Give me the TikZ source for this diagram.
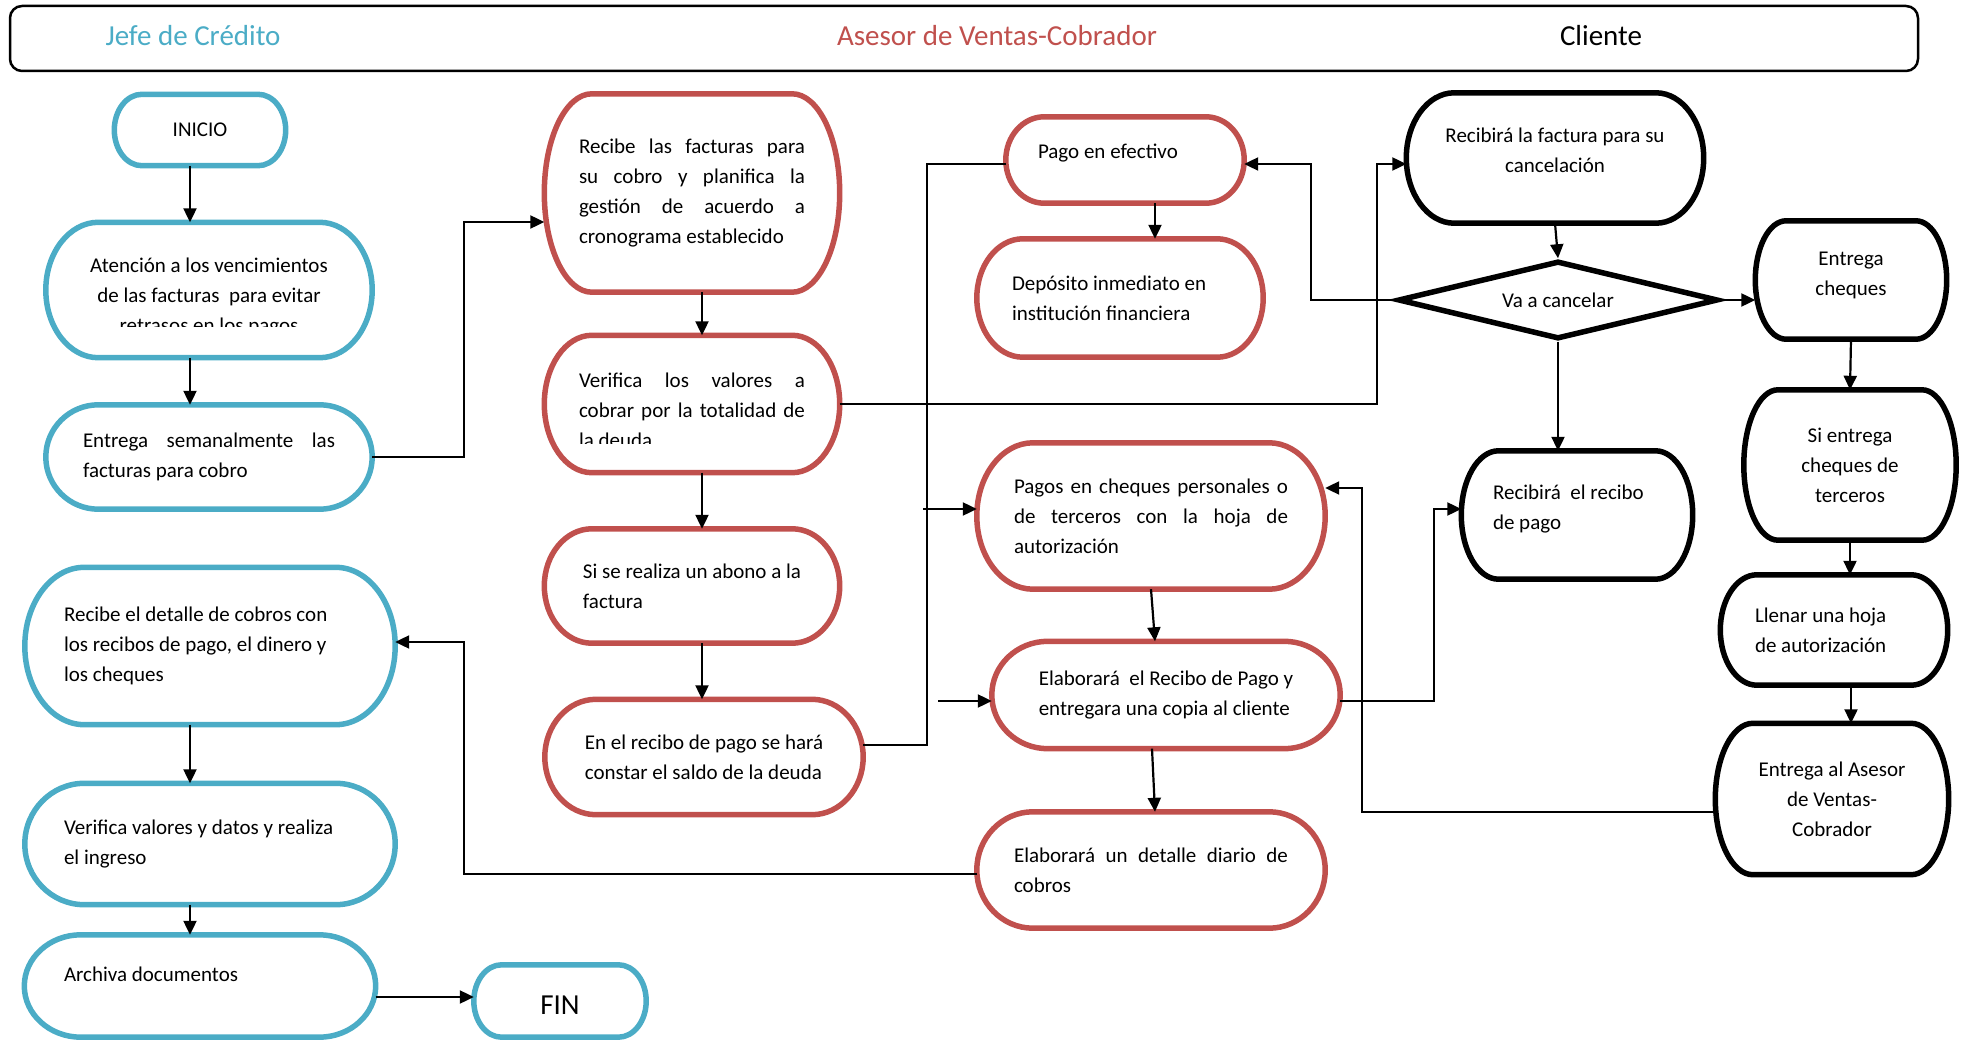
\documentclass[tikz,border=0pt]{standalone}
\usepackage{fontspec}
\setmainfont{Carlito}
\usetikzlibrary{arrows.meta,shapes.geometric,calc}
\setlength{\parindent}{0pt}
\tolerance=10000 \hbadness=10000 \hyphenpenalty=10000 \exhyphenpenalty=10000
\definecolor{jefe}{HTML}{4BACC6}
\definecolor{asesor}{HTML}{C0504D}

% terminator outline (half-ellipse ends) round a named node
\newcommand{\capsule}[2]{%
  \draw[#2] let \p1=(#1.south west), \p2=(#1.north east),
    \n1={0.161*(\x2-\x1)}, \n2={(\y2-\y1)/2} in
    (\x1+\n1,\y2) -- (\x2-\n1,\y2)
    arc[start angle=90, end angle=-90, x radius=\n1*1pt, y radius=\n2*1pt]
    -- (\x1+\n1,\y1)
    arc[start angle=270, end angle=90, x radius=\n1*1pt, y radius=\n2*1pt] -- cycle;}

\begin{document}
\begin{tikzpicture}[x=1pt, y=-1pt,
  stepbox/.style={inner sep=0pt, font=\fontsize{21}{30}\selectfont},
  lanetext/.style={font=\fontsize{29}{34}\selectfont},
  jefeline/.style={draw=jefe, line width=5.5pt},
  asesorline/.style={draw=asesor, line width=5.5pt},
  clienteline/.style={draw=black, line width=5.5pt},
  arr/.style={line width=2.2pt, -{Triangle[length=14pt, width=13pt]}},
  conn/.style={line width=2.2pt}]
\useasboundingbox (0,0) rectangle (1966,1040);

% lanes
\node[draw, line width=2.5pt, rounded corners=12pt, minimum width=1908pt, minimum height=65pt] (lanes) at (964,38.5) {};
\node[lanetext, text=jefe] (tjefe) at (193,36) {Jefe de Crédito};
\node[lanetext, text=asesor] (tasesor) at (997,36) {Asesor de Ventas-Cobrador};
\node[lanetext] (tcliente) at (1601,36) {Cliente};

% Jefe de Credito
\node[stepbox, minimum width=171pt, minimum height=71pt] (ini) at (200,130) {INICIO};
\begin{scope}
  \clip (30,200) rectangle (390,327);
  \node[stepbox, minimum width=326pt, minimum height=135pt, align=center] (aten) at (209,290)
    {\rule{0pt}{29pt}Atención a los vencimientos\\de las facturas\ \ para evitar\\retrasos en los pagos};
\end{scope}
\node[stepbox, minimum width=326pt, minimum height=104pt, text width=252pt, align=justify] (entr) at (209,457)
  {Entrega semanalmente las\linebreak facturas para cobro};
\node[stepbox, minimum width=370pt, minimum height=157pt, text width=292pt, align=flush left] (recd) at (210,646)
  {Recibe el detalle de cobros con\\los recibos de pago, el dinero y\\los cheques};
\node[stepbox, minimum width=370pt, minimum height=121pt, text width=292pt, align=flush left] (verv) at (210,844)
  {Verifica valores y datos y realiza\\el ingreso};
\node[stepbox, minimum width=351pt, minimum height=102pt, text width=272pt, align=flush left] (arch) at (200,986)
  {Archiva documentos\rule[-24pt]{0pt}{24pt}};
\node[stepbox, lanetext, minimum width=172pt, minimum height=72pt] (fin) at (560,1001) {\rule{0pt}{26pt}FIN};

% Asesor de Ventas-Cobrador
\node[stepbox, minimum width=295pt, minimum height=198pt, text width=226pt, align=justify] (recf) at (692,193)
  {Recibe las facturas para\linebreak su cobro y planifica la\linebreak gestión de acuerdo a\linebreak cronograma establecido};
\begin{scope}
  \clip (540,330) rectangle (850,444);
  \node[stepbox, minimum width=295pt, minimum height=137pt, text width=226pt, align=justify] (verl) at (692,404)
    {\rule{0pt}{27pt}Verifica los valores a\linebreak cobrar por la totalidad de\linebreak la deuda};
\end{scope}
\node[stepbox, minimum width=295pt, minimum height=114pt, align=left] (sire) at (692,586)
  {Si se realiza un abono a la\\factura};
\node[stepbox, minimum width=318pt, minimum height=115pt, align=left] (enre) at (704,757)
  {En el recibo de pago se hará\\constar el saldo de la deuda};
\node[stepbox, minimum width=238pt, minimum height=86pt, text width=174pt, align=flush left] (pago) at (1125,160)
  {Pago en efectivo\rule[-18pt]{0pt}{18pt}};
\node[stepbox, minimum width=286pt, minimum height=118pt, text width=216pt, align=flush left] (depo) at (1120,298)
  {Depósito inmediato en\\institución financiera};
\node[stepbox, minimum width=348pt, minimum height=146pt, text width=274pt, align=justify] (pche) at (1151,516)
  {Pagos en cheques personales o\linebreak de terceros con la hoja de\linebreak autorización};
\node[stepbox, minimum width=348pt, minimum height=107pt, align=left] (elre) at (1166,695)
  {Elaborará\ \ el Recibo de Pago y\\entregara una copia al cliente};
\node[stepbox, minimum width=348pt, minimum height=116pt, text width=274pt, align=justify] (elde) at (1151,870)
  {Elaborará un detalle diario de\linebreak cobros};

% Cliente
\node[stepbox, minimum width=297pt, minimum height=130pt, align=center] (rfac) at (1555,158)
  {Recibirá la factura para su\\cancelación\rule[-15pt]{0pt}{15pt}};
\node[diamond, clienteline, shape aspect=4, minimum width=320pt, minimum height=78pt, inner sep=0pt,
  font=\fontsize{21}{30}\selectfont] (vac) at (1558,300) {Va a cancelar};
\node[stepbox, minimum width=191pt, minimum height=118pt, align=center] (ench) at (1851,280)
  {Entrega\\cheques\rule[-12pt]{0pt}{12pt}};
\node[stepbox, minimum width=231pt, minimum height=128pt, text width=168pt, align=flush left] (rrec) at (1577,515)
  {Recibirá\ \ el recibo\\de pago\rule[-16pt]{0pt}{16pt}};
\node[stepbox, minimum width=212pt, minimum height=150pt, align=center] (sich) at (1850,465)
  {Si entrega\\cheques de\\terceros};
\node[stepbox, minimum width=227pt, minimum height=110pt, text width=158pt, align=flush left] (llen) at (1834,630)
  {Llenar una hoja\\de autorización};
\node[stepbox, minimum width=233pt, minimum height=151pt, align=center] (enas) at (1832,799)
  {Entrega al Asesor\\de Ventas-\\Cobrador};

% outlines
\foreach \nm in {ini,aten,entr,recd,verv,arch,fin} {\capsule{\nm}{jefeline}}
\foreach \nm in {recf,verl,sire,enre,pago,depo,pche,elre,elde} {\capsule{\nm}{asesorline}}
\foreach \nm in {rfac,ench,rrec,sich,llen,enas} {\capsule{\nm}{clienteline}}

% connectors
\coordinate (jx) at (190,0);
\coordinate (ax) at (702,0);
\coordinate (px) at (1155,0);
\coordinate (cx) at (1851,0);
\coordinate (s1) at (923,509);
\coordinate (s2) at (938,701);

\draw[arr] (ini.south -| jx) -- (aten.north -| jx);
\draw[arr] (aten.south -| jx) -- (entr.north -| jx);
\draw[arr] (recd.south -| jx) -- (verv.north -| jx);
\draw[arr] (verv.south -| jx) -- (arch.north -| jx);
\draw[arr] ([yshift=-11pt]arch.east) -- ([yshift=4pt]fin.west);
\draw[arr] (entr.east) -- ++(92,0) |- ([yshift=-29pt]recf.west);
\draw[arr] (recf.south -| ax) -- (verl.north -| ax);
\draw[arr] (verl.south -| ax) -- (sire.north -| ax);
\draw[arr] (sire.south -| ax) -- (enre.north -| ax);
\draw[arr] (verl.east) -- ++(537,0) |- ([yshift=-6pt]rfac.west);
\draw[conn] ([yshift=12pt]enre.east) -- ++(64,0) |- ([yshift=-4pt]pago.west);
\draw[arr] (s1) -- (s1 -| pche.west);
\draw[arr] (s2) -- (s2 -| elre.west);
\draw[arr] (pago.south -| px) -- (depo.north -| px);
\draw[arr] (vac.west) -- ++(-84,0) |- ([yshift=-4pt]pago.east);
\draw[arr] (rfac.south) -- (vac.north);
\draw[arr] (vac.east) -- (vac.east -| ench.west);
\draw[arr] (vac.south) -- (vac.south |- rrec.north);
\draw[arr] (ench.south) -- (sich.north);
\draw[arr] (sich.south) -- (sich.south |- llen.north);
\draw[arr] (llen.south -| cx) -- (enas.north -| cx);
\draw[arr] ([yshift=-13pt]enas.west) -- ++(-353,0) |- ([yshift=28pt]pche.east);
\draw[arr] ([yshift=-6pt]elre.east) -- ++(94,0) |- ([yshift=6pt]rrec.west);
\draw[arr] (pche.south) -- ([xshift=-11pt]elre.north);
\draw[arr] ([xshift=-14pt]elre.south) -- ([xshift=4pt]elde.north);
\draw[arr] ([yshift=-4pt]elde.west) -- ++(-513,0) |- ([yshift=4pt]recd.east);
\end{tikzpicture}
\end{document}
